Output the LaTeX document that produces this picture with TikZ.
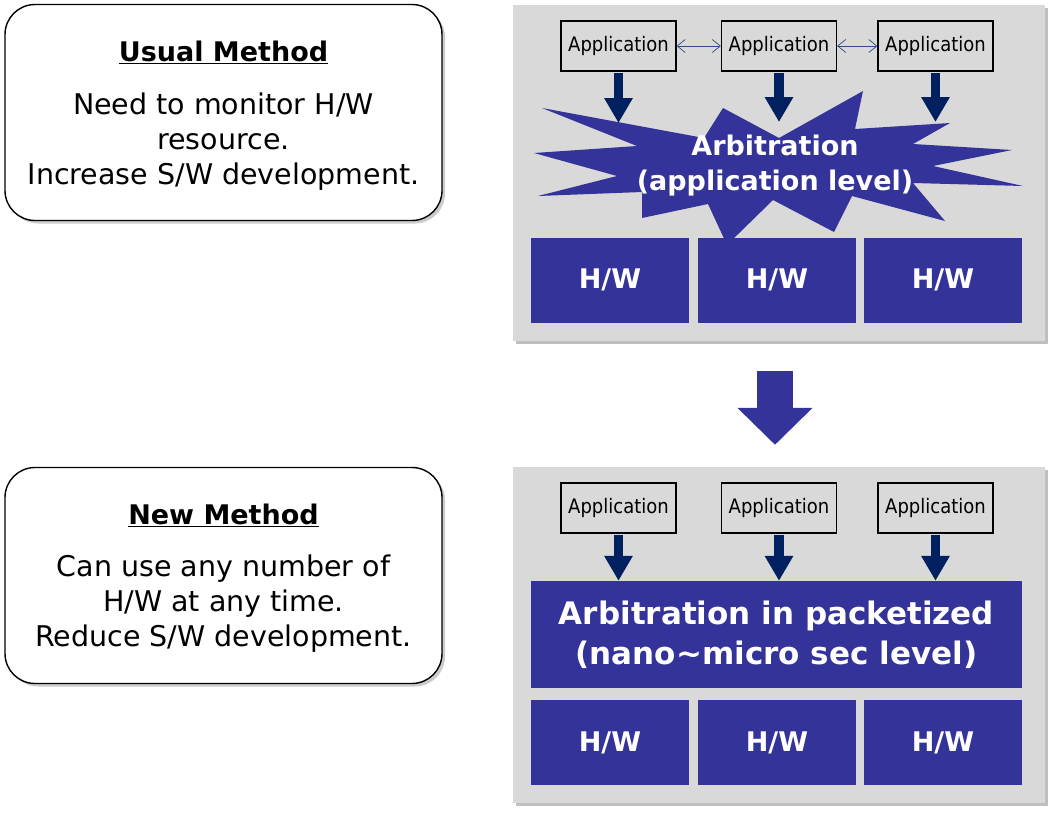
\documentclass[tikz,border=0pt]{standalone}
\usepackage{fontspec}
\setmainfont{DejaVu Sans}
\newfontfamily\appfont{DejaVu Sans Condensed}
\usetikzlibrary{arrows.meta,shadows}

\definecolor{panelgray}{HTML}{D9D9D9}
\definecolor{hwblue}{HTML}{343399}
\definecolor{navy}{HTML}{002060}
\definecolor{linkblue}{HTML}{2F4B8C}

\tikzset{
  panel/.style={fill=panelgray,minimum width=532,minimum height=336,inner sep=0,
    drop shadow={shadow xshift=3pt,shadow yshift=-3pt,opacity=0.5,fill=black!50}},
  notebox/.style={draw=black,line width=1.4pt,fill=white,rounded corners=30pt,
    minimum width=437,minimum height=216,inner sep=0,
    drop shadow={shadow xshift=3pt,shadow yshift=-3pt,opacity=0.4,fill=black!50}},
  appbox/.style={draw=black,line width=1.3pt,minimum width=115,minimum height=50,
    inner sep=0,font=\appfont\fontsize{20}{24}\selectfont},
  hwbox/.style={fill=hwblue,text=white,minimum width=158,minimum height=85,inner sep=0,
    font=\bfseries\fontsize{27}{32}\selectfont},
  appdown/.style={navy,line width=9.5pt,-{Triangle[length=25pt,width=27pt]}},
  bigdown/.style={hwblue,line width=36pt,-{Triangle[length=37pt,width=73pt]}},
  link/.style={linkblue,line width=0.7pt,
    {Straight Barb[length=8pt,width=13pt]}-{Straight Barb[length=8pt,width=13pt]}},
  title/.style={font=\bfseries\fontsize{27}{35}\selectfont},
  body/.style={align=center,font=\fontsize{28.5}{35}\selectfont}
}

\begin{document}
\begin{tikzpicture}[x=1pt,y=-1pt]
\useasboundingbox (0,0) rectangle (1057,817);

% left notes
\node[notebox] (usual) at (223.5,112.5) {};
\node[title] (usualtitle) at (223.5,52) {\underline{Usual Method}};
\node[body] (usualtext) at (223.5,142) {Need to monitor H/W\\resource.\\Increase S/W development.};
\node[notebox] (new) at (223.5,575.5) {};
\node[title] (newtitle) at (223.5,515) {\underline{New Method}};
\node[body] (newtext) at (223.5,604) {Can use any number of\\H/W at any time.\\Reduce S/W development.};

% usual method panel
\node[panel] (toppanel) at (779,173) {};
\fill[hwblue] (542,108) -- (704,138) -- (723,108) -- (779,138) -- (863,91) -- (855,129)
  -- (950,123) -- (913,144) -- (1012,150) -- (933,166) -- (1023,186) -- (913,183)
  -- (945,221) -- (852,196) -- (834,232) -- (773,200) -- (727,245) -- (708,204)
  -- (642,218) -- (642,192) -- (538,196) -- (617,176) -- (534,153) -- (637,146) -- cycle;
\node[appbox] (app1) at (618.5,46) {Application};
\node[appbox] (app2) at (779,46) {Application};
\node[appbox] (app3) at (935.5,46) {Application};
\draw[link] (app1.east) -- (app2.west);
\draw[link] (app2.east) -- (app3.west);
\coordinate (tip1) at (618.5,123);
\coordinate (tip2) at (779,122);
\coordinate (tip3) at (935.5,122);
\draw[appdown] ([yshift=-1pt]app1.south) -- (tip1);
\draw[appdown] ([yshift=-1pt]app2.south) -- (tip2);
\draw[appdown] ([yshift=-1pt]app3.south) -- (tip3);
\node[font=\bfseries\fontsize{27}{35}\selectfont,text=white,align=center] (arbtext)
  at (775,166) {Arbitration\\(application level)};
\node[hwbox] (hw1) at (610,280) {H/W};
\node[hwbox] (hw2) at (777,280) {H/W};
\node[hwbox] (hw3) at (943,280) {H/W};

% arrow between panels
\node[panel] (botpanel) at (779,635) {};
\draw[bigdown] ([xshift=-4pt,yshift=-30pt]toppanel.south) -- ([xshift=-4pt,yshift=22pt]botpanel.north);

% new method panel
\node[appbox] (app4) at (618.5,508) {Application};
\node[appbox] (app5) at (779,508) {Application};
\node[appbox] (app6) at (935.5,508) {Application};
\node[hwbox,minimum width=491,minimum height=107,font=\bfseries\fontsize{31}{40}\selectfont,
  align=center] (arb) at (776.5,634.5) {Arbitration in packetized\\(nano\textasciitilde micro sec level)};
\draw[appdown] ([yshift=-1pt]app4.south) -- (app4.south |- arb.north);
\draw[appdown] ([yshift=-1pt]app5.south) -- (app5.south |- arb.north);
\draw[appdown] ([yshift=-1pt]app6.south) -- (app6.south |- arb.north);
\node[hwbox] (hw4) at (610,742.5) {H/W};
\node[hwbox] (hw5) at (777,742.5) {H/W};
\node[hwbox] (hw6) at (943,742.5) {H/W};
\end{tikzpicture}
\end{document}
